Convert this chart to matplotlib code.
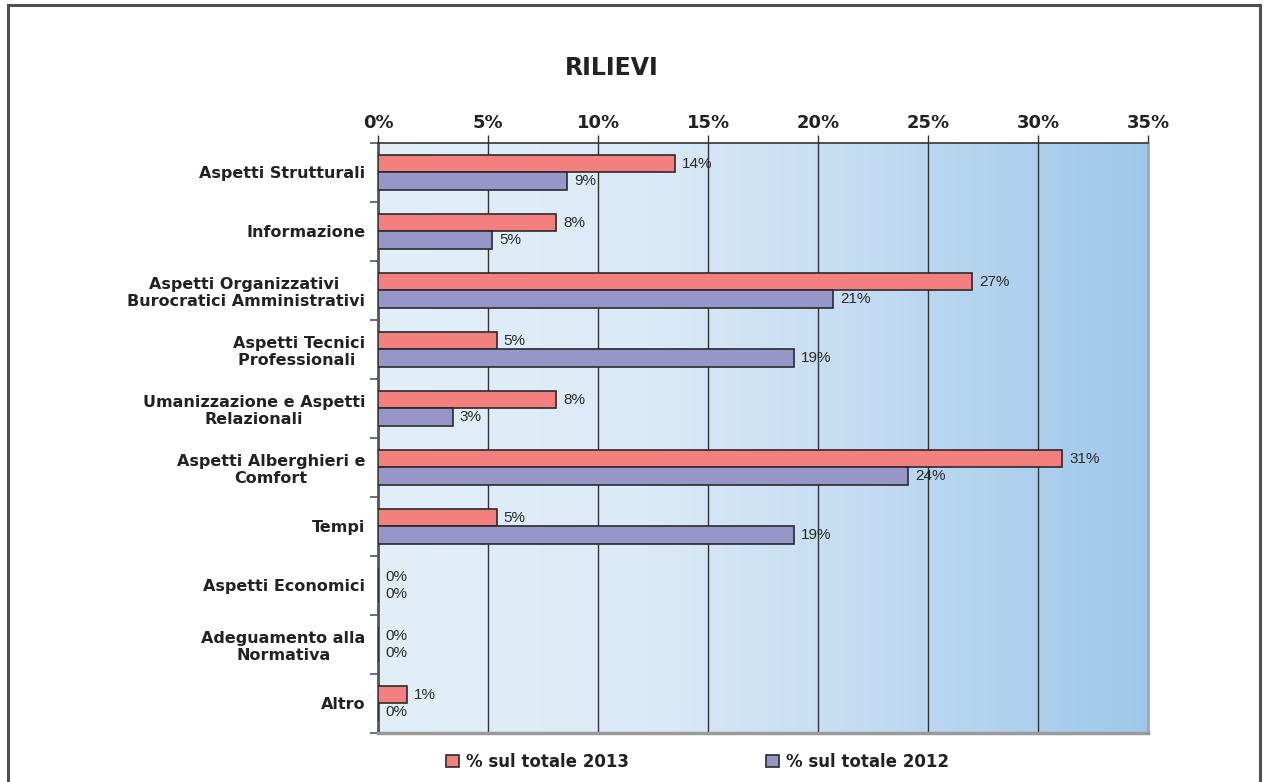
import numpy as np
import matplotlib
matplotlib.use("Agg")
import matplotlib.pyplot as plt
from matplotlib.colors import LinearSegmentedColormap
from matplotlib.patches import Rectangle

# dati (percentuali)
categorie = ['Aspetti Strutturali', 'Informazione',
             'Aspetti Organizzativi \nBurocratici Amministrativi',
             'Aspetti Tecnici\nProfessionali ', 'Umanizzazione e Aspetti\nRelazionali',
             'Aspetti Alberghieri e\nComfort', 'Tempi', 'Aspetti Economici',
             'Adeguamento alla\nNormativa', 'Altro']
tot_2013 = [13.5, 8.1, 27.0, 5.4, 8.1, 31.1, 5.4, 0.0, 0.0, 1.3]
tot_2012 = [8.6, 5.2, 20.7, 18.9, 3.4, 24.1, 18.9, 0.0, 0.0, 0.0]
serie = ['% sul totale 2013', '% sul totale 2012']
xticks = [0, 5, 10, 15, 20, 25, 30, 35]

plt.rcParams['font.family'] = ['DejaVu Sans']

fig = plt.figure(figsize=(12.68, 7.82), dpi=100)
fig.patches.append(Rectangle((0.0063, -0.05), 0.9874, 1.0436, transform=fig.transFigure,
                             fill=False, edgecolor='#505050', linewidth=2.2))

ax = fig.add_axes([0.2981, 0.0627, 0.6073, 0.7545])

# sfondo sfumato
cmap = LinearSegmentedColormap.from_list('sf', [(0, '#e2eff9'), (0.35, '#dbeaf7'),
                                                 (0.6, '#c6ddf2'), (1, '#9ec8ea')])
grad = np.linspace(0, 1, 256).reshape(1, -1)
n = len(categorie)
ax.imshow(grad, aspect='auto', cmap=cmap, extent=[0, 35, n - 0.5, -0.5], zorder=0)

y = np.arange(n)
h = 0.29
b1 = ax.barh(y - h / 2, tot_2013, height=h, color='#f47f7f', edgecolor='#2a2a2a',
             linewidth=1.2, zorder=3, label=serie[0])
b2 = ax.barh(y + h / 2, tot_2012, height=h, color='#9696c8', edgecolor='#2a2a2a',
             linewidth=1.2, zorder=3, label=serie[1])

for bars, vals in [(b1, tot_2013), (b2, tot_2012)]:
    for bar, v in zip(bars, vals):
        ax.annotate('%d%%' % round(v), (v, bar.get_y() + bar.get_height() / 2),
                    xytext=(5, 0), textcoords='offset points', va='center', ha='left',
                    fontsize=11, color='#2a2a2a', family='Liberation Sans', zorder=5)

ax.set_xlim(0, 35)
ax.set_ylim(n - 0.5, -0.5)

ax.xaxis.tick_top()
ax.set_xticks(xticks)
ax.set_xticklabels(['%d%%' % t for t in xticks], fontsize=13, fontweight='bold', color='#222222')
ax.tick_params(axis='x', length=6, width=1, color='#333333', pad=2)
ax.grid(axis='x', color='#333333', linewidth=1, zorder=1)

ax.set_yticks(np.arange(-0.5, n + 0.5, 1))
ax.set_yticklabels([])
ax.set_yticks(y, minor=True)
ax.set_yticklabels(categorie, minor=True, fontsize=11.5, fontweight='bold',
                   color='#222222', multialignment='center')
ax.tick_params(axis='y', which='major', length=6, width=1.2, color='#555555')
ax.tick_params(axis='y', which='minor', length=0, pad=9)

ax.spines['left'].set_color('#555555')
ax.spines['left'].set_linewidth(2)
ax.spines['top'].set_color('#333333')
ax.spines['top'].set_linewidth(1.2)
ax.spines['right'].set_color('#a8a8a8')
ax.spines['right'].set_linewidth(2)
ax.spines['bottom'].set_color('#9a9a9a')
ax.spines['bottom'].set_linewidth(2.5)

fig.text(0.4826, 0.9128, 'RILIEVI', ha='center', va='center', fontsize=17,
         fontweight='bold', color='#222222')

leg = fig.legend(handles=[b1, b2], loc='center', bbox_to_anchor=(0.55, 0.026), ncol=2,
                 frameon=False, columnspacing=8.2, handlelength=0.8, handleheight=0.8,
                 handletextpad=0.4, prop={'weight': 'bold', 'size': 12})
for t in leg.get_texts():
    t.set_color('#222222')

fig.savefig('out.png', dpi=100)
